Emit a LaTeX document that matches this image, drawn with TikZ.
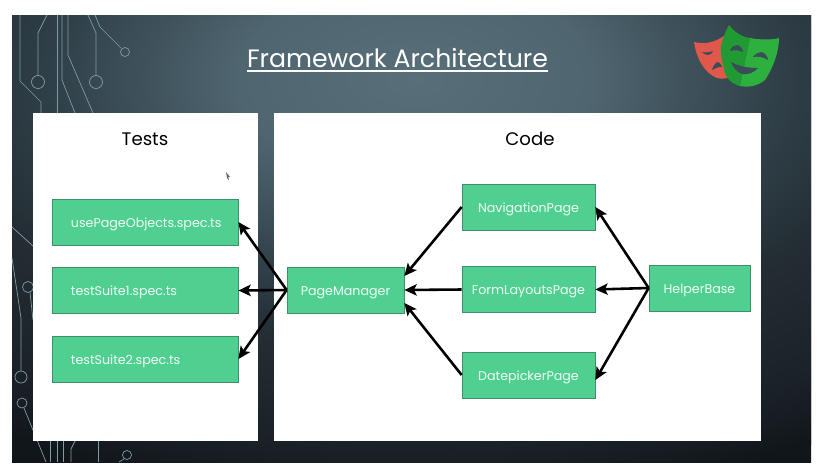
\documentclass[tikz,border=0pt]{standalone}
\usepackage{fontspec}
\setmainfont{Poppins}
\usetikzlibrary{arrows.meta}

\definecolor{boxgreen}{HTML}{50D090}
\definecolor{boxedge}{HTML}{3F8F6A}
\definecolor{tracecol}{HTML}{7F9CA5}
\definecolor{maskred}{HTML}{E0584C}
\definecolor{maskdark}{HTML}{219A33}
\definecolor{masklight}{HTML}{2EB03E}
\definecolor{maskhole}{HTML}{3A4E58}
\definecolor{backa}{HTML}{586F7A}
\definecolor{backb}{HTML}{4F6570}
\definecolor{backc}{HTML}{304049}
\definecolor{backd}{HTML}{232D33}
\definecolor{backe}{HTML}{1B2227}
\definecolor{backf}{HTML}{10151A}
\pgfdeclareradialshading{slideback}{\pgfpoint{0bp}{0bp}}{
  color(0bp)=(backa);
  color(22bp)=(backb);
  color(45bp)=(backc);
  color(60bp)=(backd);
  color(82bp)=(backe);
  color(95bp)=(backf)}

\begin{document}
\begin{tikzpicture}[
  x=0.03cm,y=-0.03cm,
  panel/.style={fill=white,draw=none},
  trace/.style={draw=tracecol,line width=0.6pt},
  box/.style={draw=boxedge,fill=boxgreen,line width=0.6pt,inner sep=0pt,text=white!92!boxgreen,font=\fontsize{10.8pt}{12pt}\selectfont,minimum height=1.38cm,text height=10.5pt,text depth=1.5pt},
  testbox/.style={box,minimum width=5.58cm,inner xsep=0.57cm,text width=4.44cm,align=left},
  head/.style={font=\fontsize{15.5pt}{18pt}\selectfont,text=black,anchor=base},
  link/.style={-{Stealth[length=3.7mm,width=3.4mm,inset=0.8mm]},draw=black,line width=2.2pt},
]

\useasboundingbox (0,0) rectangle (825,474);
\fill[white] (0,0) rectangle (825,474);
\begin{scope}
\clip (12,15) rectangle (811,462);
\shade[top color=backc,bottom color=backf] (12,15) rectangle (811,462);
\node[inner sep=0pt,transform shape,xscale=6.82,yscale=3.815] (backdrop) at (415,80) {\pgfuseshading{slideback}};
\end{scope}

% circuit traces
\draw[trace] (20,15) -- (20,81) -- (41,102) -- (41,113);
\draw[trace] (47,15) -- (38,33) -- (38,75);
\draw[trace] (38,82) circle (6.5);
\draw[trace] (57,15) -- (57,113);
\draw[trace] (62,15) -- (62,80) -- (75,113);
\draw[trace] (68,15) -- (68,55) -- (93,113);
\draw[trace] (88,15) -- (96,33) -- (96,75);
\draw[trace] (96,82) circle (6.5);
\draw[trace] (95,15) -- (100,27) -- (121,48);
\draw[trace] (125,52) circle (4.5);
\draw[trace] (12,227) -- (33,246);
\draw[trace] (12,258) -- (21,318) -- (21,371);
\draw[trace] (21,377) circle (6);
\draw[trace] (28,287) circle (5.5);
\draw[trace] (30,292) -- (33,320);
\draw[trace] (22,403) circle (5);
\draw[trace] (24,408) -- (46,462);
\draw[trace] (50,441) -- (50,462);
\draw[trace] (57,441) -- (57,462);
\draw[trace] (63,441) -- (63,462);
\draw[trace] (75,441) -- (71,449) -- (71,462);
\draw[trace] (98,441) -- (98,462);
\draw[trace] (127,455) circle (4.5);
\draw[trace] (124,459) -- (119,462);

% panels
\fill[panel] (33,113) rectangle (258,441);
\fill[panel] (274,113) rectangle (761,441);

% title
\node[font=\fontsize{21.5pt}{25pt}\selectfont,text=white,anchor=base] (titletext) at (397.5,67) {Framework Architecture};
\fill[white] (247,70) rectangle (548,72);
\node[head] (teststitle) at (145,145) {Tests};
\node[head] (codetitle) at (530,145) {Code};

% masks
\fill[maskred] (694,42) .. controls (705,45) and (715,42) .. (724,36) -- (728,78) .. controls (722,79) and (717,79) .. (713,76) .. controls (703,70) and (696,57) .. cycle;
\fill[maskhole] (702,52) .. controls (706,53) and (710,52) .. (713,51) .. controls (712,55) and (706,57) .. cycle;
\fill[maskhole] (712,70) .. controls (713,66) and (716,62) .. (718,62) .. controls (720,63) and (722,65) .. (722,67) .. controls (718,67) and (715,68) .. cycle;
\fill[maskdark] (729,25) .. controls (734,32) and (742,37) .. (750,38) -- (740,86) .. controls (732,84) and (726,78) .. (725,73) .. controls (722,62) and (720,50) .. (721,46) .. controls (723,38) and (726,30) .. cycle;
\fill[masklight] (750,38) .. controls (760,40) and (772,40) .. (779,38) .. controls (779,52) and (773,68) .. (765,80) .. controls (759,85) and (750,88) .. (740,86) -- cycle;
\fill[maskhole] (730,51) .. controls (731,47) and (734,45) .. (737,45) .. controls (740,45) and (743,49) .. (743,52) .. controls (739,50) and (734,50) .. cycle;
\fill[maskhole] (753,57) .. controls (755,54) and (759,52) .. (762,52) .. controls (765,53) and (768,57) .. (768,60) .. controls (763,57) and (758,56) .. cycle;
\fill[maskhole] (731,62) .. controls (740,67) and (750,68) .. (758,68) .. controls (754,73) and (747,75) .. (742,74) .. controls (737,72) and (733,68) .. cycle;

% boxes
\node[testbox] (usepage) at (145,222) {usePageObjects.spec.ts};
\node[testbox] (suiteone) at (145,290.5) {testSuite1.spec.ts};
\node[testbox] (suitetwo) at (145,359) {testSuite2.spec.ts};
\node[box,minimum width=3.51cm] (pagemgr) at (345.5,290) {PageManager};
\node[box,minimum width=3.99cm] (navpage) at (528.5,207) {NavigationPage};
\node[box,minimum width=3.99cm] (formpage) at (528.5,289.5) {FormLayoutsPage};
\node[box,minimum width=3.99cm] (datepage) at (528.5,375) {DatepickerPage};
\node[box,minimum width=3.03cm] (helper) at (699.5,288) {HelperBase};

% arrows
\draw[link] (pagemgr.west) -- (usepage.east);
\draw[link] (pagemgr.west) -- (suiteone.east);
\draw[link] (pagemgr.west) -- (suitetwo.east);
\draw[link] (navpage.west) -- ([yshift=0.42cm]pagemgr.east);
\draw[link] (formpage.west) -- (pagemgr.east);
\draw[link] (datepage.west) -- ([yshift=-0.39cm]pagemgr.east);
\draw[link] (helper.west) -- (navpage.east);
\draw[link] (helper.west) -- (formpage.east);
\draw[link] (helper.west) -- ([yshift=-0.15cm]datepage.east);

% cursor
\fill[black!60] (226,172) -- (230,177) -- (228,177) -- (229,180) -- (227,178) -- cycle;
\end{tikzpicture}
\end{document}
